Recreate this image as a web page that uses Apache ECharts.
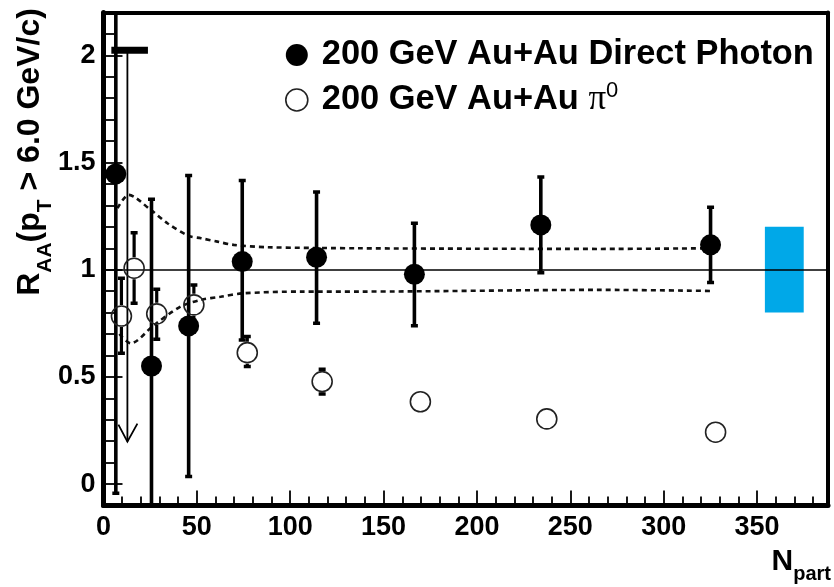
<!DOCTYPE html>
<html><head><meta charset="utf-8">
<script src="https://cdn.jsdelivr.net/npm/echarts@6/dist/echarts.min.js"></script>
<style>html,body{margin:0;padding:0;background:#fff}#c{width:834px;height:587px}</style>
</head><body><div id="c"></div>
<script>
const dpName = '200 GeV Au+Au Direct Photon';
const piName = '200 GeV Au+Au \u03c00';
// Direct photon (filled)
const dpN  = [6.6, 25.7, 45.6, 74.3, 114.1, 166.5, 234.2, 325.1];
const dpR  = [1.447, 0.551, 0.738, 1.038, 1.058, 0.979, 1.209, 1.116];
const dpLo = [-0.043, -0.3, 0.035, 0.672, 0.750, 0.739, 0.986, 0.940];
const dpHi = [2.5, 1.329, 1.439, 1.416, 1.362, 1.217, 1.433, 1.292];
// pi0 (open)
const piN  = [9.6, 16.4, 28.5, 48.4, 77.0, 117.1, 169.7, 237.4, 327.8];
const piR  = [0.784, 1.007, 0.794, 0.836, 0.613, 0.478, 0.384, 0.304, 0.242];
const piLo = [0.610, 0.844, 0.676, 0.730, 0.548, 0.420, 0.384, 0.304, 0.242];
const piHi = [0.960, 1.173, 0.909, 0.929, 0.688, 0.536, 0.384, 0.304, 0.242];
// dashed uncertainty band
const upN = [7.5, 13.5, 25.3, 34.2, 45.6, 52.2, 61, 69.7, 87.7, 137.6, 200, 266, 324];
const upR = [1.287, 1.349, 1.279, 1.217, 1.158, 1.147, 1.131, 1.116, 1.105, 1.100, 1.098, 1.097, 1.100];
const loN = [8.5, 14.6, 27.1, 41.3, 52, 62.7, 75, 105.5, 137.6, 266, 325];
const loR = [0.700, 0.657, 0.742, 0.828, 0.859, 0.874, 0.890, 0.898, 0.898, 0.906, 0.901];
// global systematic box
const sysN = [354.2, 375];
const sysR = [0.8, 1.2];
// upper-limit arrow
const limN = 12.8, limTop = 2.024, limTip = 0.198;
const limBarN = [4.2, 23.8];
const refY = 1;
// ticks
const xMajor = [0, 50, 100, 150, 200, 250, 300, 350];
const xMinor = [10,20,30,40,60,70,80,90,110,120,130,140,160,170,180,190,210,220,230,240,260,270,280,290,310,320,330,340,360,370,380];
const yMajor = [0, 0.5, 1, 1.5, 2];
const yMinor = [0.1,0.2,0.3,0.4,0.6,0.7,0.8,0.9,1.1,1.2,1.3,1.4,1.6,1.7,1.8,1.9,2.1];

const FONT = "'Liberation Sans', Arial, Helvetica, sans-serif";
const X_MIN = 0, X_MAX = 388, Y_MIN = -0.1, Y_MAX = 2.2;

function errRender(radius, lw, capW, capH) {
  return function (params, api) {
    const x = api.value(0), y = api.value(1), lo = api.value(2), hi = api.value(3);
    const c = api.coord([x, y]), pl = api.coord([x, lo]), ph = api.coord([x, hi]);
    const ch = [];
    if (ph[1] < c[1] - radius) {
      ch.push({type: 'line', shape: {x1: c[0], y1: c[1] - radius, x2: c[0], y2: ph[1]}, style: {stroke: '#000', lineWidth: lw}});
      ch.push({type: 'rect', shape: {x: c[0] - capW / 2, y: ph[1] - capH / 2, width: capW, height: capH}, style: {fill: '#000'}});
    }
    if (pl[1] > c[1] + radius) {
      ch.push({type: 'line', shape: {x1: c[0], y1: c[1] + radius, x2: c[0], y2: pl[1]}, style: {stroke: '#000', lineWidth: lw}});
      ch.push({type: 'rect', shape: {x: c[0] - capW / 2, y: pl[1] - capH / 2, width: capW, height: capH}, style: {fill: '#000'}});
    }
    return {type: 'group', children: ch};
  };
}

const chart = echarts.init(document.getElementById('c'), null, {renderer: 'canvas'});
const baseAxis = {type: 'value', splitLine: {show: false}, axisPointer: {show: false}};
const option = {
  animation: false,
  backgroundColor: '#fff',
  grid: {left: 103.5, right: 6, top: 12.5, bottom: 81.5, containLabel: false, outerBoundsMode: 'none'},
  xAxis: [
    Object.assign({}, baseAxis, {min: X_MIN, max: X_MAX, position: 'bottom',
      axisLine: {show: true, onZero: false, lineStyle: {color: '#000', width: 5}},
      axisTick: {show: true, inside: true, length: 15, customValues: xMajor, lineStyle: {color: '#000', width: 1.8}},
      axisLabel: {show: true, customValues: xMajor, margin: 9, color: '#000', fontSize: 27, fontWeight: 'bold', fontFamily: FONT}}),
    Object.assign({}, baseAxis, {min: X_MIN, max: X_MAX, position: 'bottom',
      axisLine: {show: false, onZero: false},
      axisTick: {show: true, inside: true, length: 9, customValues: xMinor, lineStyle: {color: '#000', width: 1.8}},
      axisLabel: {show: false}}),
    Object.assign({}, baseAxis, {min: X_MIN, max: X_MAX, position: 'top',
      axisLine: {show: true, onZero: false, lineStyle: {color: '#000', width: 4}},
      axisTick: {show: false}, axisLabel: {show: false}})
  ],
  yAxis: [
    Object.assign({}, baseAxis, {min: Y_MIN, max: Y_MAX, position: 'left',
      axisLine: {show: true, onZero: false, lineStyle: {color: '#000', width: 5}},
      axisTick: {show: true, inside: true, length: 19, customValues: yMajor, lineStyle: {color: '#000', width: 1.8}},
      axisLabel: {show: true, customValues: yMajor, margin: 8, color: '#000', fontSize: 27, fontWeight: 'bold', fontFamily: FONT}}),
    Object.assign({}, baseAxis, {min: Y_MIN, max: Y_MAX, position: 'left',
      axisLine: {show: false, onZero: false},
      axisTick: {show: true, inside: true, length: 11, customValues: yMinor, lineStyle: {color: '#000', width: 1.8}},
      axisLabel: {show: false}}),
    Object.assign({}, baseAxis, {min: Y_MIN, max: Y_MAX, position: 'right',
      axisLine: {show: true, onZero: false, lineStyle: {color: '#000', width: 4}},
      axisTick: {show: false}, axisLabel: {show: false}})
  ],
  legend: {
    orient: 'vertical', left: 280, top: 33, itemWidth: 40, itemHeight: 22, itemGap: 8,
    selectedMode: false,
    data: [
      {name: dpName, icon: 'circle', itemStyle: {color: '#000', borderWidth: 0, opacity: 1}},
      {name: piName, icon: 'circle', itemStyle: {color: 'rgba(255,255,255,0)', borderColor: '#222', borderWidth: 1.6, opacity: 1}}
    ],
    formatter: function (name) {
      if (name === piName) return '{b|200 GeV Au+Au }{pi|\u03c0}{sup|0}';
      return '{b|' + name + '}';
    },
    textStyle: {color: '#000', fontFamily: FONT, fontSize: 34.4, fontWeight: 'bold',
      rich: {
        b: {fontFamily: FONT, fontSize: 34.4, fontWeight: 'bold', lineHeight: 40, color: '#000'},
        pi: {fontFamily: "'Liberation Serif', 'Times New Roman', serif", fontSize: 35, fontWeight: 'normal', lineHeight: 40, color: '#000'},
        sup: {fontFamily: FONT, fontSize: 22, fontWeight: 'normal', lineHeight: 22, verticalAlign: 'top', color: '#000'}
      }}
  },
  graphic: [
    {type: 'text', x: 14, y: 152, rotation: Math.PI / 2, silent: true,
      style: {text: '{m|R}{s|AA}{m|(p}{s|T}{m| > 6.0 GeV/c)}', align: 'center', verticalAlign: 'top', fill: '#000',
        rich: {
          m: {fontFamily: FONT, fontSize: 32, fontWeight: 'bold', lineHeight: 32, verticalAlign: 'top', fill: '#000'},
          s: {fontFamily: FONT, fontSize: 21, fontWeight: 'bold', lineHeight: 42, verticalAlign: 'bottom', fill: '#000'}
        }}},
    {type: 'text', x: 831, y: 547, silent: true,
      style: {text: '{m|N}{s|part}', align: 'right', verticalAlign: 'top', fill: '#000',
        rich: {
          m: {fontFamily: FONT, fontSize: 30, fontWeight: 'bold', lineHeight: 30, verticalAlign: 'top', fill: '#000'},
          s: {fontFamily: FONT, fontSize: 20, fontWeight: 'bold', lineHeight: 37, verticalAlign: 'bottom', fill: '#000'}
        }}}
  ],
  series: [
    {type: 'line', name: 'bandUp', data: upN.map((n, i) => [n, upR[i]]), showSymbol: false, symbol: 'none', smooth: 0.3,
      lineStyle: {color: '#111', width: 2.6, type: [5, 4]}, z: 2, silent: true,
      markLine: {symbol: 'none', silent: true, label: {show: false}, lineStyle: {color: '#000', width: 1.5, type: 'solid'},
        data: [{yAxis: refY}]}},
    {type: 'line', name: 'bandLo', data: loN.map((n, i) => [n, loR[i]]), showSymbol: false, symbol: 'none', smooth: 0.3,
      lineStyle: {color: '#111', width: 2.6, type: [5, 4]}, z: 2, silent: true},
    {type: 'custom', name: 'sys', z: 3, silent: true, clip: true,
      data: [[sysN[0], sysN[1], sysR[0], sysR[1]]],
      renderItem: function (params, api) {
        const a = api.coord([api.value(0), api.value(3)]), b = api.coord([api.value(1), api.value(2)]);
        return {type: 'rect', shape: {x: a[0], y: a[1], width: b[0] - a[0], height: b[1] - a[1]}, style: {fill: '#00a8e8'}};
      }},
    {type: 'custom', name: 'limit', z: 4, silent: true, clip: true,
      data: [[limN, limTop, limTip, limBarN[0], limBarN[1]]],
      renderItem: function (params, api) {
        const t = api.coord([api.value(0), api.value(1)]), p = api.coord([api.value(0), api.value(2)]);
        const b0 = api.coord([api.value(3), api.value(1)]), b1 = api.coord([api.value(4), api.value(1)]);
        return {type: 'group', children: [
          {type: 'line', shape: {x1: t[0], y1: t[1], x2: p[0], y2: p[1]}, style: {stroke: '#000', lineWidth: 1.8}},
          {type: 'polyline', shape: {points: [[p[0] - 9, p[1] - 17], [p[0], p[1]], [p[0] + 10, p[1] - 18]]}, style: {stroke: '#000', lineWidth: 1.8, fill: null}},
          {type: 'rect', shape: {x: b0[0], y: b0[1] - 3.5, width: b1[0] - b0[0], height: 7}, style: {fill: '#000'}}
        ]};
      }},
    {type: 'custom', name: 'dpErr', z: 4, silent: true, clip: true,
      data: dpN.map((n, i) => [n, dpR[i], dpLo[i], dpHi[i]]),
      renderItem: errRender(0, 3.6, 7, 3.5)},
    {type: 'custom', name: 'piErr', z: 4, silent: true, clip: true,
      data: piN.map((n, i) => [n, piR[i], piLo[i], piHi[i]]),
      renderItem: errRender(11, 3.2, 7, 3.5)},
    {type: 'scatter', name: dpName, data: dpN.map((n, i) => [n, dpR[i]]), symbol: 'circle', symbolSize: 21, z: 5,
      itemStyle: {color: '#000', opacity: 1}},
    {type: 'scatter', name: piName, data: piN.map((n, i) => [n, piR[i]]), symbol: 'circle', symbolSize: 20, z: 5,
      itemStyle: {color: 'rgba(255,255,255,0)', borderColor: '#222', borderWidth: 1.6, opacity: 1}}
  ]
};
chart.setOption(option);
</script>
</body></html>
